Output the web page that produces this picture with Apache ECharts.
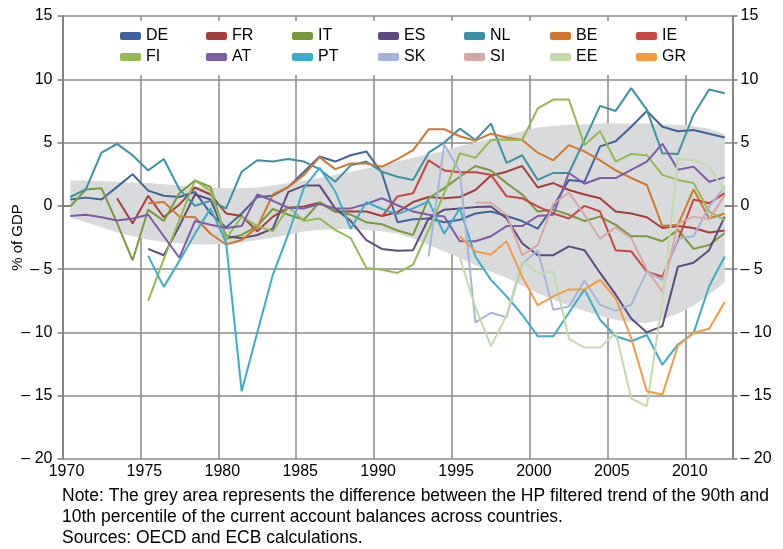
<!DOCTYPE html>
<html>
<head>
<meta charset="utf-8">
<script src="https://cdn.jsdelivr.net/npm/echarts@6/dist/echarts.min.js"></script>
<style>
  html, body { margin: 0; padding: 0; background: #fff; }
  #chart { width: 783px; height: 549px; }
</style>
</head>
<body>
<div id="chart"></div>
<script>
// years 1970 .. 2012
var years = [];
for (var y = 1970; y <= 2012; y++) years.push(y);

var DE = [0.5, 0.65, 0.5, 1.5, 2.5, 1.2, 0.8, 0.7, 1.1, -0.6, -1.7, -0.6, 0.7, 0.8, 1.5, 2.7, 3.9, 3.5, 4.0, 4.3, 2.6, -1.3, -1.05, -1.0, -1.3, -1.1, -0.6, -0.45, -0.8, -1.2, -1.8, -0.05, 2.05, 1.9, 4.7, 5.1, 6.25, 7.5, 6.25, 5.9, 6.0, 5.7, 5.4];
var FR = [null, null, null, 0.6, -1.4, 0.8, -0.9, 0.1, 1.45, 0.9, -0.6, -0.8, -2.0, -0.85, -0.15, -0.05, 0.25, -0.45, -0.45, -0.45, -0.8, -0.5, 0.3, 0.7, 0.6, 0.7, 1.25, 2.4, 2.7, 3.15, 1.45, 1.8, 1.25, 0.9, 0.6, -0.45, -0.6, -0.9, -1.75, -1.6, -1.75, -2.1, -1.95];
var IT = [-0.05, 1.3, 1.4, -1.35, -4.3, -0.3, -1.2, 1.0, 2.0, 1.5, -2.6, -2.3, -1.6, -0.25, -0.7, -1.1, 0.3, -0.45, -0.7, -1.3, -1.45, -1.95, -2.3, 0.6, 1.4, 2.3, 3.15, 2.8, 1.8, 0.9, -0.45, -0.3, -0.7, -1.2, -0.85, -1.5, -2.4, -2.4, -2.8, -1.9, -3.4, -3.1, -2.15];
var ES = [null, null, null, null, null, -3.4, -3.9, -1.6, 0.9, 0.5, -2.4, -2.55, -2.3, -1.8, 1.1, 1.6, 1.6, -0.2, -1.2, -2.7, -3.4, -3.55, -3.5, -1.0, -0.3, -0.2, -0.1, -0.05, -1.0, -2.95, -3.9, -3.9, -3.2, -3.5, -5.3, -7.0, -8.9, -10.0, -9.5, -4.8, -4.5, -3.5, -0.85];
var NL = [0.7, 1.3, 4.2, 4.9, 4.0, 2.8, 3.7, 1.3, 0.0, 0.4, -0.2, 2.7, 3.6, 3.5, 3.7, 3.5, 2.9, 1.9, 3.2, 3.5, 2.7, 2.3, 2.05, 4.2, 5.0, 6.1, 5.2, 6.5, 3.4, 4.0, 2.05, 2.6, 2.6, 5.2, 7.9, 7.5, 9.3, 7.6, 4.15, 4.1, 7.2, 9.2, 8.9];
var BE = [null, null, null, null, null, 0.2, 0.3, -0.85, -0.9, -2.2, -3.05, -2.7, -1.7, 0.9, 1.5, 2.45, 3.85, 2.9, 3.35, 3.35, 3.1, 3.7, 4.4, 6.05, 6.05, 5.5, 5.15, 5.7, 5.4, 5.2, 4.2, 3.6, 4.8, 4.3, 3.6, 2.8, 2.2, 1.65, -1.6, -1.5, 1.3, -1.0, -0.6];
var IE = [null, null, null, null, null, null, null, null, null, null, null, null, null, null, null, null, null, null, null, null, -0.85, 0.75, 1.0, 3.6, 2.8, 2.65, 2.65, 2.45, 0.75, 0.6, -0.05, -0.6, -1.0, 0.0, -0.45, -3.5, -3.6, -5.2, -5.6, -2.7, 0.5, 0.2, 1.0];
var FI = [null, null, null, null, null, -7.5, -4.2, -1.1, 2.0, 1.2, -2.6, -0.85, -1.6, -2.0, -0.1, -1.2, -1.0, -1.9, -2.55, -4.9, -5.05, -5.3, -4.65, -1.9, 1.0, 4.15, 3.8, 5.2, 5.25, 5.2, 7.7, 8.4, 8.4, 4.8, 5.9, 3.5, 4.1, 4.0, 2.45, 2.05, 1.8, -0.45, -1.1];
var AT = [-0.8, -0.7, -0.9, -1.15, -1.0, -0.7, -2.4, -4.1, -1.2, -1.5, -1.75, -1.6, 0.9, 0.4, -0.15, -0.2, 0.15, -0.2, -0.2, 0.15, 0.6, 0.05, -0.45, -0.7, -0.85, -2.8, -2.8, -2.4, -1.6, -1.6, -0.8, -0.7, 2.6, 1.75, 2.2, 2.2, 2.85, 3.5, 4.9, 2.85, 3.1, 1.9, 2.25];
var PT = [null, null, null, null, null, -3.95, -6.4, -4.35, -2.2, -0.2, -2.9, -14.65, -10.0, -5.45, -2.2, 1.45, 3.0, 1.15, -1.8, 0.3, -0.25, -0.65, -0.2, 0.35, -2.2, -0.2, -4.0, -5.85, -7.15, -8.6, -10.3, -10.3, -8.45, -6.6, -9.0, -10.3, -10.7, -10.2, -12.55, -10.95, -10.05, -6.35, -4.0];
var SK = [null, null, null, null, null, null, null, null, null, null, null, null, null, null, null, null, null, null, null, null, null, null, null, -4.0, 4.85, 2.7, -9.2, -8.45, -8.8, -4.6, -3.5, -8.2, -7.95, -5.9, -7.8, -8.3, -7.8, -5.2, -5.85, -2.6, -2.4, -0.05, 1.5];
var SI = [null, null, null, null, null, null, null, null, null, null, null, null, null, null, null, null, null, null, null, null, null, null, null, null, null, null, 0.25, 0.25, -0.7, -3.9, -3.1, 0.15, 1.05, -0.7, -2.6, -1.7, -2.55, -5.05, -6.8, -1.4, -0.85, -1.05, 0.85];
var EE = [null, null, null, null, null, null, null, null, null, null, null, null, null, null, null, null, null, null, null, null, null, null, null, null, null, -4.1, -8.0, -11.1, -8.65, -4.35, -5.3, -5.2, -10.5, -11.2, -11.2, -10.0, -15.2, -15.85, -7.5, 3.7, 3.6, 3.15, 1.1];
var GR = [null, null, null, null, null, null, null, null, null, null, null, null, null, null, null, null, null, null, null, null, null, null, null, null, null, -2.4, -3.6, -3.85, -2.8, -5.6, -7.85, -7.15, -6.6, -6.6, -5.85, -7.3, -10.45, -14.65, -14.9, -11.05, -10.05, -9.7, -7.6];

// HP trend of 90th / 10th percentile (grey band)
var bandUpper = [2.0, 2.0, 1.95, 1.9, 1.85, 1.8, 1.7, 1.6, 1.5, 1.45, 1.4, 1.4, 1.45, 1.6, 1.8, 2.0, 2.2, 2.45, 2.7, 2.95, 3.2, 3.5, 3.8, 4.05, 4.35, 4.7, 5.0, 5.3, 5.6, 5.9, 6.2, 6.3, 6.4, 6.45, 6.5, 6.5, 6.5, 6.5, 6.45, 6.4, 6.3, 6.1, 5.7];
var bandLower = [-0.9, -1.3, -1.7, -2.1, -2.4, -2.65, -2.85, -2.95, -3.05, -3.05, -3.0, -2.9, -2.7, -2.5, -2.3, -2.0, -1.9, -1.85, -1.85, -1.9, -2.0, -2.2, -2.6, -3.1, -3.6, -4.1, -4.7, -5.2, -5.7, -6.3, -6.9, -7.4, -7.9, -8.3, -8.7, -9.0, -9.2, -9.25, -9.0, -8.5, -7.9, -7.0, -6.05];

var legendRow1 = ['DE', 'FR', 'IT', 'ES', 'NL', 'BE', 'IE'];
var legendRow2 = ['FI', 'AT', 'PT', 'SK', 'SI', 'EE', 'GR'];

var countries = [
  { name: 'DE', data: DE, color: '#41649c' },
  { name: 'FR', data: FR, color: '#a43f3a' },
  { name: 'IT', data: IT, color: '#789a3d' },
  { name: 'ES', data: ES, color: '#5e4a7e' },
  { name: 'NL', data: NL, color: '#3a93a4' },
  { name: 'BE', data: BE, color: '#d2772c' },
  { name: 'IE', data: IE, color: '#c9463f' },
  { name: 'FI', data: FI, color: '#93ba4f' },
  { name: 'AT', data: AT, color: '#7f5ba7' },
  { name: 'PT', data: PT, color: '#3badcc' },
  { name: 'SK', data: SK, color: '#a5b5d9' },
  { name: 'SI', data: SI, color: '#d7a7a3' },
  { name: 'EE', data: EE, color: '#c3dbab' },
  { name: 'GR', data: GR, color: '#f79a3f' }
];

var FONT = "'Liberation Sans', Arial, sans-serif";

function pts(arr) {
  return arr.map(function (v, i) { return [years[i] + 0.5, v]; });
}

function yFmt(v) {
  return v < 0 ? '\u2013 ' + (-v) : String(v);
}

var series = [
  {
    // grey band between the two trend lines
    name: 'band', type: 'custom', silent: true, z: 1,
    data: pts(bandUpper),
    encode: { x: 0, y: 1 },
    renderItem: function (params, api) {
      if (params.dataIndex !== 0) return null;
      var top = [], bot = [];
      for (var i = 0; i < years.length; i++) {
        top.push(api.coord([years[i] + 0.5, bandUpper[i]]));
        bot.push(api.coord([years[i] + 0.5, bandLower[i]]));
      }
      return {
        type: 'polygon',
        shape: { points: top.concat(bot.reverse()) },
        style: { fill: '#d9dadc' }
      };
    }
  }
];

countries.forEach(function (c) {
  series.push({
    name: c.name, type: 'line', data: pts(c.data),
    symbol: 'none', connectNulls: false,
    lineStyle: { width: 2, color: c.color },
    itemStyle: { color: c.color },
    z: 3
  });
});

// one legend per item so the columns line up like the original
var legends = [];
[legendRow1, legendRow2].forEach(function (row, r) {
  row.forEach(function (name, col) {
    legends.push({
      data: [name], left: 115 + col * 86, top: r === 0 ? 23 : 44,
      itemWidth: 21, itemHeight: 8, icon: 'roundRect',
      textStyle: { fontFamily: FONT, fontSize: 16, color: '#000' }
    });
  });
});

var chart = echarts.init(document.getElementById('chart'));
chart.setOption({
  animation: false,
  backgroundColor: '#fff',
  grid: { left: 62.5, right: 50.5, top: 16, bottom: 90, outerBoundsMode: 'none' },
  legend: legends,
  graphic: [
    { type: 'rect', z: 1, shape: { x: 64, y: 21, width: 667, height: 54 }, style: { fill: '#fff' } },
    { type: 'text', left: 62, top: 487, style: { text: 'Note: The grey area represents the difference between the HP filtered trend of the 90th and', font: '17.5px ' + FONT, fill: '#000' } },
    { type: 'text', left: 62, top: 508, style: { text: '10th percentile of the current account balances across countries.', font: '17.5px ' + FONT, fill: '#000' } },
    { type: 'text', left: 62, top: 529, style: { text: 'Sources: OECD and ECB calculations.', font: '17.5px ' + FONT, fill: '#000' } }
  ],
  xAxis: {
    type: 'value', min: 1970, max: 2013, interval: 5,
    axisLine: { lineStyle: { color: '#7a7a7a', width: 1.5 } },
    axisTick: { show: false },
    splitLine: { lineStyle: { color: '#8a8a8a', width: 1.5 } },
    axisLabel: {
      margin: 5, showMaxLabel: false, padding: [0, 0, 0, 8],
      fontFamily: FONT, fontSize: 16, color: '#000',
      formatter: function (v) { return v <= 2010 ? String(v) : ''; }
    }
  },
  yAxis: [
    {
      type: 'value', min: -20, max: 15, interval: 5, position: 'left',
      name: '% of GDP', nameLocation: 'middle', nameGap: 37, nameMoveOverlap: false,
      nameTextStyle: { fontFamily: FONT, fontSize: 15, color: '#000' },
      axisLine: { show: true, lineStyle: { color: '#7a7a7a', width: 1.5 } },
      axisTick: { show: true, length: 5, lineStyle: { color: '#7a7a7a', width: 1.5 } },
      splitLine: { lineStyle: { color: '#8a8a8a', width: 1.5 } },
      axisLabel: { margin: 10, fontFamily: FONT, fontSize: 16, color: '#000', formatter: yFmt }
    },
    {
      type: 'value', min: -20, max: 15, interval: 5, position: 'right',
      axisLine: { show: true, lineStyle: { color: '#7a7a7a', width: 1.5 } },
      axisTick: { show: true, length: 5, lineStyle: { color: '#7a7a7a', width: 1.5 } },
      splitLine: { show: false },
      axisLabel: { margin: 8, fontFamily: FONT, fontSize: 16, color: '#000', formatter: yFmt }
    }
  ],
  series: series
});
</script>
</body>
</html>
